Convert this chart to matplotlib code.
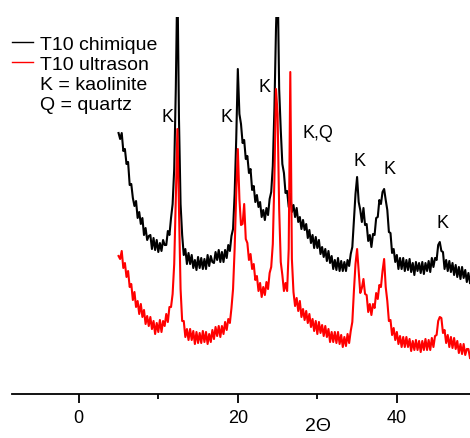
import numpy as np
import matplotlib
matplotlib.use("Agg")
import matplotlib.pyplot as plt
from matplotlib.lines import Line2D

plt.rcParams['font.family'] = ['Liberation Sans', 'DejaVu Sans']

# 2-theta grid: 5.0 .. 49.2 deg, step 0.2 (one row below = 2 deg)
theta_start = 5.0
theta_step = 0.2

# T10 chimique, intensity (a.u.)
chimique = [
    261, 255, 261, 243, 245, 230, 232, 209, 210, 196,   # 5
    188, 193, 176, 182, 170, 176, 159, 166, 154, 158,   # 7
    159, 145, 156, 144, 154, 142, 151, 143, 154, 149,   # 9
    149, 163, 159, 176, 190, 225, 305, 420, 275, 190,   # 11
    159, 139, 145, 130, 141, 130, 139, 126, 134, 124,   # 13
    137, 126, 136, 125, 135, 125, 139, 128, 138, 132,   # 15
    131, 142, 134, 144, 132, 142, 132, 144, 136, 149,   # 17
    143, 158, 165, 200, 255, 325, 280, 270, 251, 254,   # 19
    235, 238, 221, 225, 204, 208, 192, 199, 187, 192,   # 21
    177, 184, 174, 186, 179, 195, 202, 228, 285, 365,   # 23
    420, 305, 264, 230, 221, 201, 203, 187, 200, 182,   # 25
    189, 177, 186, 172, 177, 165, 174, 164, 170, 156,   # 27
    164, 151, 159, 146, 157, 146, 154, 140, 147, 137,   # 29
    145, 133, 143, 131, 138, 125, 134, 124, 136, 123,   # 31
    133, 123, 132, 123, 134, 128, 140, 147, 174, 200,   # 33
    217, 192, 184, 172, 186, 169, 170, 153, 159, 147,   # 35
    160, 159, 176, 177, 194, 190, 202, 205, 194, 184,   # 37
    162, 161, 141, 145, 132, 139, 125, 136, 125, 136,   # 39
    123, 134, 124, 135, 122, 131, 119, 132, 123, 131,   # 41
    121, 132, 120, 131, 123, 133, 122, 136, 127, 136,   # 43
    134, 149, 152, 143, 142, 125, 134, 123, 133, 122,   # 45
    131, 119, 129, 117, 127, 115, 127, 116, 124, 112,   # 47
    121, 111,                                           # 49
]

# T10 ultrason
ultrason = [
    138, 135, 143, 126, 131, 117, 123, 107, 110, 94,    # 5
    102, 87, 93, 80, 90, 77, 84, 70, 78, 68,            # 7
    77, 65, 73, 60, 71, 62, 74, 62, 73, 68,             # 9
    80, 72, 87, 87, 100, 130, 195, 265, 185, 105,       # 11
    73, 73, 57, 65, 54, 65, 54, 63, 50, 62,             # 13
    51, 61, 51, 63, 52, 62, 50, 60, 52, 64,             # 15
    55, 67, 58, 68, 57, 68, 60, 72, 64, 75,             # 17
    71, 86, 105, 145, 200, 245, 195, 169, 170, 190,     # 19
    155, 151, 134, 140, 125, 130, 114, 118, 103, 111,   # 21
    97, 107, 99, 112, 105, 121, 127, 150, 215, 305,     # 23
    280, 185, 132, 119, 103, 111, 103, 145, 322, 135,   # 25
    102, 88, 96, 83, 93, 77, 85, 74, 83, 71,            # 27
    80, 67, 75, 63, 73, 60, 72, 61, 69, 58,             # 29
    68, 57, 65, 52, 62, 52, 62, 51, 62, 50,             # 31
    59, 47, 57, 48, 60, 51, 63, 72, 103, 130,           # 33
    145, 123, 101, 106, 115, 100, 99, 82, 90, 79,       # 35
    90, 86, 101, 95, 109, 107, 123, 135, 107, 93,       # 37
    73, 74, 59, 66, 54, 62, 50, 58, 47, 57,             # 39
    47, 57, 47, 55, 43, 53, 44, 54, 44, 53,             # 41
    42, 53, 44, 55, 44, 54, 44, 56, 47, 58,             # 43
    59, 73, 77, 76, 61, 64, 51, 59, 47, 57,             # 45
    46, 56, 45, 53, 41, 50, 40, 50, 39, 45,             # 47
    45, 36,                                             # 49
]

# peak labels: (text, 2theta, intensity)
peak_labels = ['K', 'K', 'K', 'K,Q', 'K', 'K', 'K']
peak_x = [11.1, 18.6, 23.4, 30.1, 35.3, 39.1, 45.8]
peak_y = [278, 277, 308, 262, 234, 225, 171]

x_ticks = [0, 20, 40]
x_minor = [10, 30]

theta_c = theta_start + theta_step * np.arange(len(chimique))
theta_u = theta_start + theta_step * np.arange(len(ultrason))

fig = plt.figure(figsize=(4.7, 4.39), dpi=100)
ax = fig.add_axes([12/470, 44/439, 458/470, 377/439])

l1, = ax.plot(theta_c, chimique, color='black', lw=1.5, label='T10 chimique')
l2, = ax.plot(theta_u, ultrason, color='#ff0000', lw=1.5, label='T10 ultrason')

for txt, px, py in zip(peak_labels, peak_x, peak_y):
    ax.text(px, py, txt, fontsize=13, ha='center', va='center')

ax.set_xlim(-8.4, 49.2)
ax.set_ylim(0, 377)

for s in ['left', 'right', 'top']:
    ax.spines[s].set_visible(False)
ax.spines['bottom'].set_linewidth(1.3)
ax.set_yticks([])
ax.set_xticks(x_ticks)
ax.set_xticks(x_minor, minor=True)
ax.tick_params(axis='x', which='major', direction='out', length=6.5, width=1.3,
               labelsize=13, pad=4)
ax.tick_params(axis='x', which='minor', direction='out', length=3.5, width=1.3)

ax.set_xlabel('2Θ', fontsize=14)
ax.xaxis.set_label_coords(0.668, -0.062)

blank = Line2D([], [], color='none')
leg = fig.legend([l1, l2, blank, blank],
                 ['T10 chimique', 'T10 ultrason', 'K = kaolinite', 'Q = quartz'],
                 loc='upper left', bbox_to_anchor=(12/470, 1 - 36/439),
                 frameon=False, fontsize=14, handlelength=1.1, handletextpad=0.35,
                 borderpad=0, borderaxespad=0, labelspacing=0.13)
for h in leg.legend_handles:
    h.set_linewidth(1.0)

fig.savefig('out.png', dpi=100)
